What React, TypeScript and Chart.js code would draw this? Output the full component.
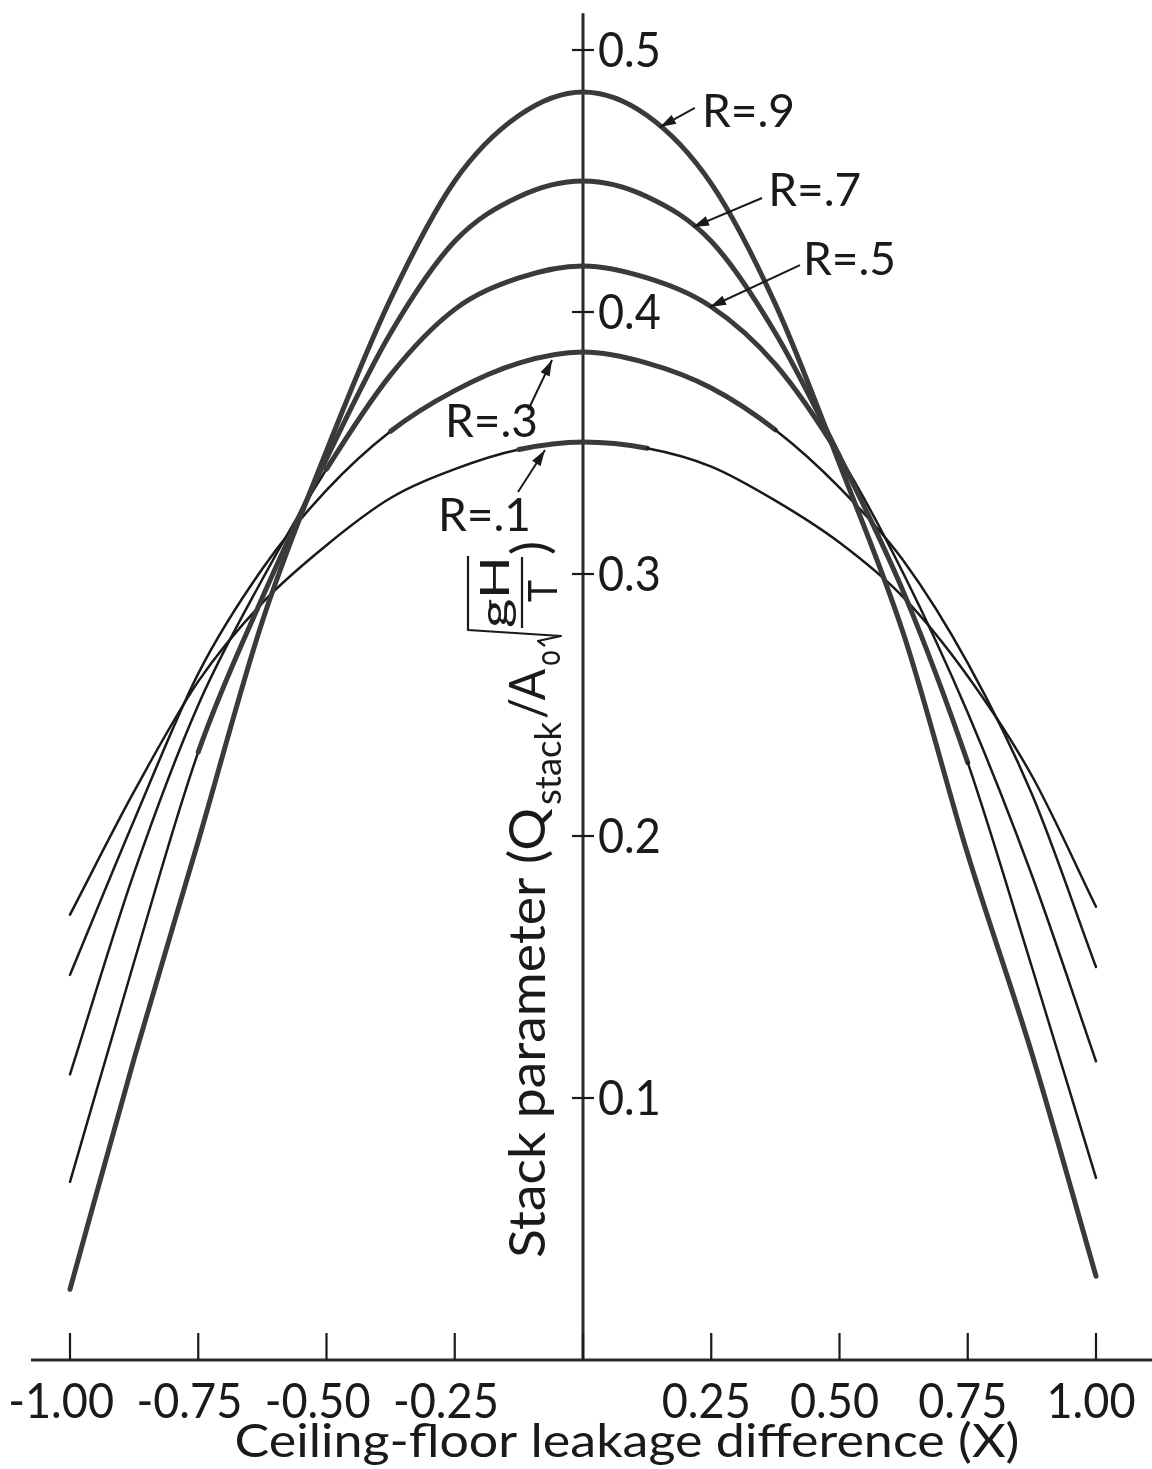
import React, { useEffect, useRef } from 'react';
import { Chart, registerables } from 'chart.js';

Chart.register(...registerables);

// ---------- data ----------
const xValues = [-1, -0.875, -0.75, -0.625, -0.5, -0.375, -0.25, -0.125, 0, 0.125, 0.25, 0.375, 0.5, 0.625, 0.75, 0.875, 1];

const r09 = [0.027, 0.115, 0.198, 0.282, 0.347, 0.405, 0.450, 0.475, 0.484, 0.475, 0.449, 0.403, 0.342, 0.277, 0.193, 0.117, 0.032];
const r07 = [0.068, 0.152, 0.232, 0.291, 0.344, 0.392, 0.427, 0.444, 0.450, 0.444, 0.427, 0.392, 0.345, 0.293, 0.228, 0.150, 0.0695];
const r05 = [0.109, 0.186, 0.250, 0.298, 0.340, 0.376, 0.401, 0.413, 0.4176, 0.413, 0.402, 0.380, 0.345, 0.300, 0.247, 0.185, 0.114];
const r03 = [0.147, 0.206, 0.262, 0.302, 0.332, 0.3545, 0.370, 0.3805, 0.3847, 0.3805, 0.371, 0.355, 0.333, 0.305, 0.266, 0.216, 0.150];
const r01 = [0.170, 0.217, 0.259, 0.289, 0.311, 0.329, 0.340, 0.3475, 0.3504, 0.348, 0.341, 0.328, 0.312, 0.291, 0.261, 0.223, 0.173];

const seriesNames = ['R=.9', 'R=.7', 'R=.5', 'R=.3', 'R=.1'];
const seriesValues = [r09, r07, r05, r03, r01];
// |X| below which each curve is drawn with the heavy pen
const heavyLimits = [2, 0.72, 0.55, 0.33, 0.1];

const xTickValues = [-1, -0.75, -0.5, -0.25, 0, 0.25, 0.5, 0.75, 1];
const xTickLabelValues = [-1, -0.75, -0.5, -0.25, 0.25, 0.5, 0.75, 1];
const xTickLabels = ['-1.00', '-0.75', '-0.50', '-0.25', '0.25', '0.50', '0.75', '1.00'];
const yTickValues = [0.1, 0.2, 0.3, 0.4, 0.5];
const yTickLabels = ['0.1', '0.2', '0.3', '0.4', '0.5'];

const xTitle = 'Ceiling-floor leakage difference (X)';

// curve labels: text anchor (left, vertical middle), arrow start, arrow tip — data units
const labelTextX = [0.232, 0.361, 0.4288, -0.269, -0.2827];
const labelTextY = [0.4767, 0.4466, 0.4202, 0.3584, 0.3225];
const arrowFromX = [0.218, 0.349, 0.423, -0.107, -0.1267];
const arrowFromY = [0.4779, 0.4435, 0.4179, 0.3626, 0.3313];
const arrowToX = [0.150, 0.2144, 0.2476, -0.0604, -0.0741];
const arrowToY = [0.4706, 0.4324, 0.4019, 0.3817, 0.3473];

// scale ranges
const X_MIN = -1.13645;
const X_MAX = 1.10916;
const Y_MIN = -0.041603;
const Y_MAX = 0.519084;
const X_AXIS_START = -1.076;
const Y_AXIS_TOP = 0.514;

const FONT = 'Lato, "DejaVu Sans", sans-serif';
const INK = '#1a1a1a';

function fitText(ctx: CanvasRenderingContext2D, text: string, x: number, y: number, width: number | null, align: CanvasTextAlign) {
  const w = ctx.measureText(text).width;
  const s = width ? width / w : 1;
  ctx.save();
  ctx.translate(x, y);
  ctx.scale(s, 1);
  ctx.textAlign = align;
  ctx.textBaseline = 'alphabetic';
  ctx.fillText(text, 0, 0);
  ctx.restore();
}

// rotated text (reading bottom to top) occupying pixel y range [yEnd, yStart], baseline at x = bx
function rotText(ctx: CanvasRenderingContext2D, text: string, bx: number, yStart: number, yEnd: number, font: string) {
  ctx.save();
  ctx.font = font;
  const w = ctx.measureText(text).width;
  ctx.translate(bx, yStart);
  ctx.rotate(-Math.PI / 2);
  ctx.scale((yStart - yEnd) / w, 1);
  ctx.textAlign = 'left';
  ctx.textBaseline = 'alphabetic';
  ctx.fillText(text, 0, 0);
  ctx.restore();
}

function line(ctx: CanvasRenderingContext2D, x1: number, y1: number, x2: number, y2: number) {
  ctx.beginPath();
  ctx.moveTo(x1, y1);
  ctx.lineTo(x2, y2);
  ctx.stroke();
}

const axesPlugin = {
  id: 'handAxes',
  beforeDatasetsDraw(chart: any) {
    const ctx: CanvasRenderingContext2D = chart.ctx;
    const xs = chart.scales.x;
    const ys = chart.scales.y;
    const x0 = xs.getPixelForValue(0);
    const y0 = ys.getPixelForValue(0);
    ctx.save();
    ctx.strokeStyle = '#2a2a2a';
    ctx.lineCap = 'butt';
    ctx.lineWidth = 3;
    line(ctx, xs.getPixelForValue(X_AXIS_START), y0, chart.width, y0);
    line(ctx, x0, ys.getPixelForValue(Y_AXIS_TOP), x0, y0 + 1);
    ctx.lineWidth = 2.2;
    ctx.strokeStyle = INK;
    xTickValues.forEach((v) => {
      const px = xs.getPixelForValue(v);
      line(ctx, px, y0 - 27, px, y0);
    });
    yTickValues.forEach((v) => {
      const py = ys.getPixelForValue(v);
      line(ctx, x0 - 11, py, x0 + 11, py);
    });
    ctx.restore();
  },
};

const textPlugin = {
  id: 'handText',
  afterDatasetsDraw(chart: any) {
    const ctx: CanvasRenderingContext2D = chart.ctx;
    const xs = chart.scales.x;
    const ys = chart.scales.y;
    const x0 = xs.getPixelForValue(0);
    const y0 = ys.getPixelForValue(0);
    ctx.save();
    ctx.fillStyle = INK;
    ctx.strokeStyle = INK;

    // tick labels
    ctx.font = `48px ${FONT}`;
    const s = 89 / ctx.measureText('0.25').width;
    xTickLabelValues.forEach((v, i) => {
      const px = xs.getPixelForValue(v);
      const t = xTickLabels[i];
      const w = ctx.measureText(t).width * s;
      if (v < 0) fitText(ctx, t, px + 44, y0 + 58, w, 'right');
      else fitText(ctx, t, px - 5, y0 + 58, w, 'center');
    });
    yTickValues.forEach((v, i) => {
      const py = ys.getPixelForValue(v);
      const t = yTickLabels[i];
      const w = ctx.measureText(t).width * s;
      fitText(ctx, t, x0 + 15, py + 17, w, 'left');
    });

    // x title
    ctx.font = `47px ${FONT}`;
    fitText(ctx, xTitle, 627, 1457, 785, 'center');

    // y title (rotated, with subscripts and radical)
    rotText(ctx, 'Stack parameter (Q', 545, 1258, 808, `50px ${FONT}`);
    rotText(ctx, 'stack', 561, 805, 722, `36px ${FONT}`);
    rotText(ctx, '/A', 545, 719, 669, `50px ${FONT}`);
    rotText(ctx, 'o', 560, 666, 650, `34px ${FONT}`);
    ctx.lineWidth = 2.2;
    ctx.lineJoin = 'round';
    ctx.beginPath();
    ctx.moveTo(545, 646);
    ctx.lineTo(538, 641);
    ctx.lineTo(561, 636);
    ctx.lineTo(468, 630);
    ctx.lineTo(468, 556);
    ctx.stroke();
    rotText(ctx, 'gH', 509, 628, 556, `40px ${FONT}`);
    line(ctx, 522, 628, 522, 557);
    rotText(ctx, 'T', 557, 602, 580, `40px ${FONT}`);
    rotText(ctx, ')', 548, 555, 541, `50px ${FONT}`);

    // curve labels with arrows
    ctx.font = `46px ${FONT}`;
    seriesNames.forEach((name, i) => {
      const tx = xs.getPixelForValue(labelTextX[i]);
      const ty = ys.getPixelForValue(labelTextY[i]);
      fitText(ctx, name, tx, ty + 16, null, 'left');
      const ax = xs.getPixelForValue(arrowFromX[i]);
      const ay = ys.getPixelForValue(arrowFromY[i]);
      const bx = xs.getPixelForValue(arrowToX[i]);
      const by = ys.getPixelForValue(arrowToY[i]);
      ctx.lineWidth = 2;
      line(ctx, ax, ay, bx, by);
      const ang = Math.atan2(by - ay, bx - ax);
      const L = 16;
      const H = 5;
      ctx.beginPath();
      ctx.moveTo(bx, by);
      ctx.lineTo(bx - L * Math.cos(ang) + H * Math.sin(ang), by - L * Math.sin(ang) - H * Math.cos(ang));
      ctx.lineTo(bx - L * Math.cos(ang) - H * Math.sin(ang), by - L * Math.sin(ang) + H * Math.cos(ang));
      ctx.closePath();
      ctx.fill();
    });
    ctx.restore();
  },
};

export default function App() {
  const ref = useRef<HTMLCanvasElement>(null);

  useEffect(() => {
    const canvas = ref.current;
    if (!canvas) return;
    const datasets = seriesNames.map((name, si) => {
      const lim = heavyLimits[si];
      const heavy = (c: any) => Math.abs((c.p0.parsed.x + c.p1.parsed.x) / 2) < lim;
      return {
        label: name,
        data: xValues.map((x, i) => ({ x, y: seriesValues[si][i] })),
        borderColor: INK,
        borderWidth: 2.5,
        pointRadius: 0,
        pointHoverRadius: 0,
        cubicInterpolationMode: 'monotone' as const,
        borderCapStyle: 'round' as const,
        borderJoinStyle: 'round' as const,
        fill: false,
        segment: {
          borderWidth: (c: any) => (heavy(c) ? 5 : 2.5),
          borderColor: (c: any) => (heavy(c) ? '#3a3a3a' : INK),
        },
      };
    });
    const chart = new Chart(canvas, {
      type: 'line',
      data: { datasets },
      options: {
        responsive: false,
        animation: false,
        devicePixelRatio: 1,
        layout: { padding: 0 },
        events: [],
        plugins: { legend: { display: false }, tooltip: { enabled: false } },
        scales: {
          x: { type: 'linear', min: X_MIN, max: X_MAX, display: false },
          y: { type: 'linear', min: Y_MIN, max: Y_MAX, display: false },
        },
      },
      plugins: [axesPlugin, textPlugin],
    } as any);
    return () => chart.destroy();
  }, []);

  return (
    <div style={{ position: 'absolute', left: 0, top: 0, width: 1152, height: 1469, background: '#fff' }}>
      <canvas ref={ref} width={1152} height={1469} style={{ display: 'block', width: 1152, height: 1469 }} />
    </div>
  );
}
